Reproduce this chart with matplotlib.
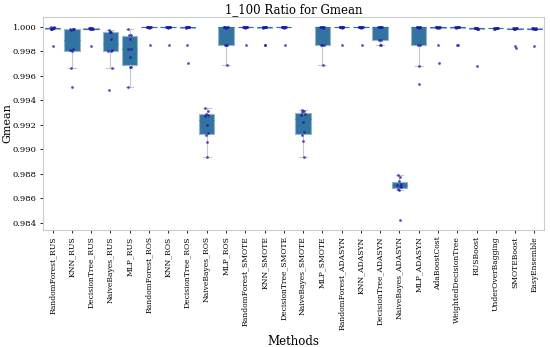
import matplotlib
matplotlib.use("Agg")
import matplotlib.pyplot as plt
import numpy as np

plt.rcParams['font.family'] = ['DejaVu Serif']

methods = ["RandomForest_RUS", "KNN_RUS", "DecisionTree_RUS", "NaiveBayes_RUS", "MLP_RUS",
           "RandomForest_ROS", "KNN_ROS", "DecisionTree_ROS", "NaiveBayes_ROS", "MLP_ROS",
           "RandomForest_SMOTE", "KNN_SMOTE", "DecisionTree_SMOTE", "NaiveBayes_SMOTE", "MLP_SMOTE",
           "RandomForest_ADASYN", "KNN_ADASYN", "DecisionTree_ADASYN", "NaiveBayes_ADASYN", "MLP_ADASYN",
           "AdaBoostCost", "WeightedDecisionTree", "RUSBoost", "UnderOverBagging", "SMOTEBoost",
           "EasyEnsemble"]

# Gmean scores per fold
rf_rus = [1.0, 0.9999, 0.9998, 0.9999, 0.9998, 0.9999, 1.0, 0.9998, 0.9984, 0.9999]
knn_rus = [0.9998, 0.9998, 0.9997, 0.9998, 0.9981, 0.9980, 0.9982, 0.9966, 0.9951, 0.9998]
dt_rus = [0.9999, 0.9998, 0.9999, 0.9998, 0.9999, 0.9998, 0.9999, 0.9998, 0.9984, 0.9999]
nb_rus = [0.9997, 0.9996, 0.9996, 0.9981, 0.9980, 0.9980, 0.9966, 0.9948, 0.9996, 0.9990]
mlp_rus = [0.9998, 0.9993, 0.9993, 0.9982, 0.9982, 0.9967, 0.9967, 0.9951, 0.9990, 0.9975]
rf_ros = [1.0, 1.0, 1.0, 1.0, 1.0, 1.0, 1.0, 1.0, 0.9999, 0.9985]
knn_ros = [1.0, 1.0, 1.0, 1.0, 1.0, 1.0, 1.0, 1.0, 0.9999, 0.9985]
dt_ros = [1.0, 1.0, 1.0, 1.0, 1.0, 1.0, 1.0, 0.9999, 0.9985, 0.9970]
nb_ros = [0.9934, 0.9931, 0.9929, 0.9928, 0.9927, 0.9920, 0.9913, 0.9912, 0.9906, 0.9894]
mlp_ros = [1.0, 1.0, 1.0, 1.0, 1.0, 0.9999, 0.9985, 0.9985, 0.9985, 0.9969]
rf_smote = [1.0, 1.0, 1.0, 1.0, 1.0, 1.0, 1.0, 1.0, 0.9999, 0.9985]
knn_smote = [1.0, 1.0, 1.0, 1.0, 1.0, 1.0, 1.0, 0.9999, 0.9985, 0.9985]
dt_smote = [1.0, 1.0, 1.0, 1.0, 1.0, 1.0, 1.0, 1.0, 0.9999, 0.9985]
nb_smote = [0.9932, 0.9931, 0.9930, 0.9929, 0.9928, 0.9922, 0.9914, 0.9912, 0.9907, 0.9894]
mlp_smote = [1.0, 1.0, 1.0, 1.0, 1.0, 0.9999, 0.9985, 0.9985, 0.9985, 0.9969]
rf_adasyn = [1.0, 1.0, 1.0, 1.0, 1.0, 1.0, 1.0, 1.0, 0.9999, 0.9985]
knn_adasyn = [1.0, 1.0, 1.0, 1.0, 1.0, 1.0, 1.0, 1.0, 0.9999, 0.9985]
dt_adasyn = [1.0, 1.0, 1.0, 1.0, 1.0, 1.0, 0.9989, 0.9989, 0.9985, 0.9985]
nb_adasyn = [0.9879, 0.9877, 0.9874, 0.9872, 0.9871, 0.9870, 0.9869, 0.9868, 0.9867, 0.9842]
mlp_adasyn = [1.0, 1.0, 1.0, 1.0, 1.0, 0.9999, 0.9985, 0.9985, 0.9968, 0.9953]
adaboost = [1.0, 1.0, 1.0, 1.0, 1.0, 1.0, 0.9999, 0.9999, 0.9985, 0.9970]
wdt = [1.0, 1.0, 1.0, 1.0, 1.0, 1.0, 1.0, 0.9999, 0.9985, 0.9985]
rusboost = [0.9999, 0.9999, 0.9999, 0.9998, 0.9999, 0.9999, 0.9998, 0.9999, 0.9998, 0.9968]
uob = [0.9999, 0.9999, 0.9999, 0.9999, 0.9998, 0.9999, 0.9999, 0.9998, 0.9999, 0.9999]
smoteboost = [0.9999, 0.9999, 0.9998, 0.9999, 0.9999, 0.9998, 0.9999, 0.9998, 0.9984, 0.9983]
easyens = [0.9999, 0.9998, 0.9999, 0.9998, 0.9999, 0.9998, 0.9999, 0.9998, 0.9984, 0.9998]

scores = [rf_rus, knn_rus, dt_rus, nb_rus, mlp_rus,
          rf_ros, knn_ros, dt_ros, nb_ros, mlp_ros,
          rf_smote, knn_smote, dt_smote, nb_smote, mlp_smote,
          rf_adasyn, knn_adasyn, dt_adasyn, nb_adasyn, mlp_adasyn,
          adaboost, wdt, rusboost, uob, smoteboost, easyens]

fig = plt.figure(figsize=(5.5, 3.47), dpi=100)
ax = fig.add_axes([0.078, 0.337, 0.911, 0.614])

pos = np.arange(len(methods))
ax.boxplot(scores, positions=pos, widths=0.8, patch_artist=True, showfliers=False,
           boxprops=dict(facecolor="#3274a1", edgecolor="#9db4c8", linewidth=0.8),
           whiskerprops=dict(color="#c8c8c8", linewidth=0.8),
           capprops=dict(color="#c8c8c8", linewidth=0.8),
           medianprops=dict(color="#3274a1", linewidth=0.8))

# fixed horizontal spread so points do not sit on top of each other
spread = np.array([-0.08, 0.05, -0.03, 0.09, -0.10, 0.02, 0.07, -0.06, 0.0, 0.04])
for i, s in enumerate(scores):
    ax.scatter(pos[i] + spread[:len(s)], s, s=4, color="#1a1aa6", alpha=0.75, zorder=3, linewidths=0)

ax.set_xlim(-0.5, len(methods) - 0.5)
ax.set_xticks(pos)
ax.set_xticklabels(methods, rotation=90, fontsize=5.5)
ax.tick_params(axis='y', labelsize=6, length=2.5, width=0.6, pad=2)
ax.tick_params(axis='x', length=2.5, width=0.6, pad=2)
ax.set_yticks(np.arange(0.984, 1.0001, 0.002))
ax.yaxis.set_major_formatter(matplotlib.ticker.FormatStrFormatter('%.3f'))
for sp in ax.spines.values():
    sp.set_color("#cccccc")
    sp.set_linewidth(0.8)

ax.set_title("1_100 Ratio for Gmean", fontsize=8.5, pad=3)
ax.set_ylabel("Gmean", fontsize=8)
ax.yaxis.set_label_coords(-0.061, 0.5)
ax.set_xlabel("Methods", fontsize=8.5, labelpad=3)

fig.savefig("out.png", dpi=100)
